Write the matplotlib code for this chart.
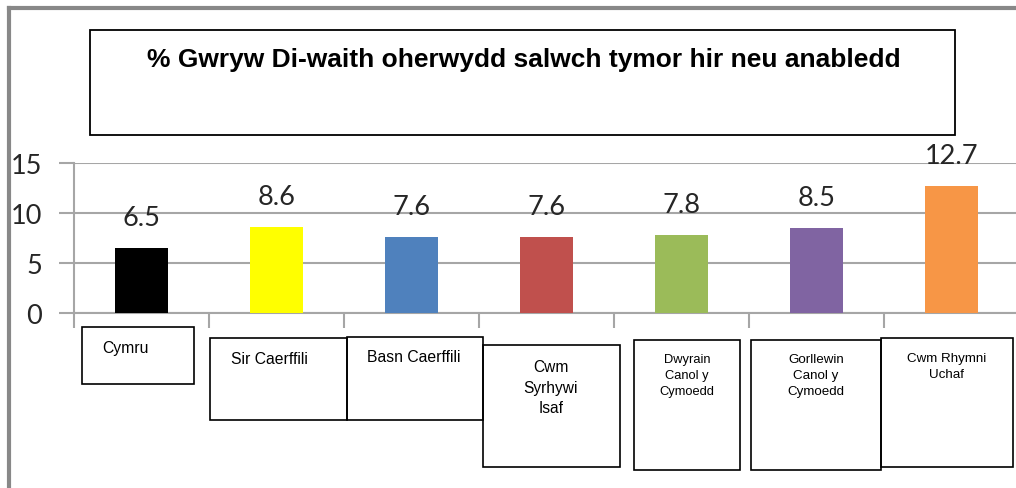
import matplotlib.pyplot as plt
from matplotlib.patches import Rectangle
from matplotlib.lines import Line2D

# chart data
categories = ["Cymru", "Sir Caerffili", "Basn Caerffili", "Cwm\nSyrhywi\nIsaf",
              "Dwyrain\nCanol y\nCymoedd", "Gorllewin\nCanol y\nCymoedd", "Cwm Rhymni\nUchaf"]
values = [6.5, 8.6, 7.6, 7.6, 7.8, 8.5, 12.7]
bar_colors = ["#000000", "#FFFF00", "#4F81BD", "#C0504D", "#9BBB59", "#8064A2", "#F79646"]
yticks = [0, 5, 10, 15]
title = "% Gwryw Di-waith oherwydd salwch tymor hir neu anabledd"

W, H = 1016, 489
fig = plt.figure(figsize=(W / 100, H / 100), dpi=100)

def fx(px):
    return px / W

def fy(py):
    return 1 - py / H

grid_col = "#a6a6a6"

# plot area: x from 74 px, one category every 135 px; y 0..15 from 314 to 164 px
ax = fig.add_axes([fx(74), fy(314), fx(7 * 135), (314 - 164) / H])
x = list(range(len(values)))
ax.bar(x, values, width=0.39, color=bar_colors, zorder=3)
ax.set_xlim(-0.5, 6.5)
ax.set_ylim(0, 15)
ax.set_yticks(yticks)
ax.set_yticklabels([str(t) for t in yticks], fontfamily="Lato", fontsize=19.5, color="#262626")
ax.tick_params(axis="y", length=11, width=1.5, color=grid_col, pad=12)
ax.set_xticks([i - 0.5 for i in range(len(values) + 1)])
ax.set_xticklabels([])
ax.tick_params(axis="x", length=11, width=1.5, color=grid_col)
ax.grid(axis="y", color=grid_col, linewidth=1.5, zorder=0)
for side in ["top", "right"]:
    ax.spines[side].set_visible(False)
ax.spines["left"].set_color(grid_col)
ax.spines["left"].set_linewidth(1.5)
ax.spines["bottom"].set_color(grid_col)
ax.spines["bottom"].set_linewidth(1.5)

for xi, v in zip(x, values):
    ax.annotate(f"{v}", (xi, v), xytext=(0, 22), textcoords="offset points",
                ha="center", va="center", fontfamily="Lato", fontsize=19.5, color="#262626")

# outer frame (gray, left and top)
fig.add_artist(Line2D([fx(9), fx(9)], [fy(9), 0], color="#888888", linewidth=3))
fig.add_artist(Line2D([fx(9), 1], [fy(9), fy(9)], color="#888888", linewidth=3))

# title box
fig.add_artist(Rectangle((fx(90), fy(136)), fx(955 - 90), (136 - 31) / H,
                         fill=False, edgecolor="black", linewidth=1.3))
fig.text(fx(524), fy(60), title, ha="center", va="center",
         fontfamily="Liberation Sans", fontweight="bold", fontsize=19, color="black")

# category label boxes: (left, top, right, bottom) in px, text anchor, size, align
boxes = [
    ((82, 328, 194, 385), (102, 349), 11.3, "left"),
    ((210, 339, 347, 421), (231, 359), 11.3, "left"),
    ((347, 338, 483, 421), (367, 358), 11.3, "left"),
    ((483, 346, 620, 468), (551, 388), 11.2, "center"),
    ((634, 341, 740, 471), (687, 376), 9.3, "center"),
    ((751, 341, 881, 471), (816, 376), 9.6, "center"),
    ((881, 339, 1013, 468), (947, 367), 9.6, "center"),
]
for label, (rect, (tx, ty), size, align) in zip(categories, boxes):
    l, t, r, b = rect
    fig.add_artist(Rectangle((fx(l), fy(b)), fx(r - l), (b - t) / H,
                             fill=False, edgecolor="black", linewidth=1.2))
    fig.text(fx(tx), fy(ty), label, ha=align, va="center", multialignment="center",
             fontfamily="Liberation Sans", fontsize=size, color="black", linespacing=1.42)

fig.savefig("out.png", dpi=100)
